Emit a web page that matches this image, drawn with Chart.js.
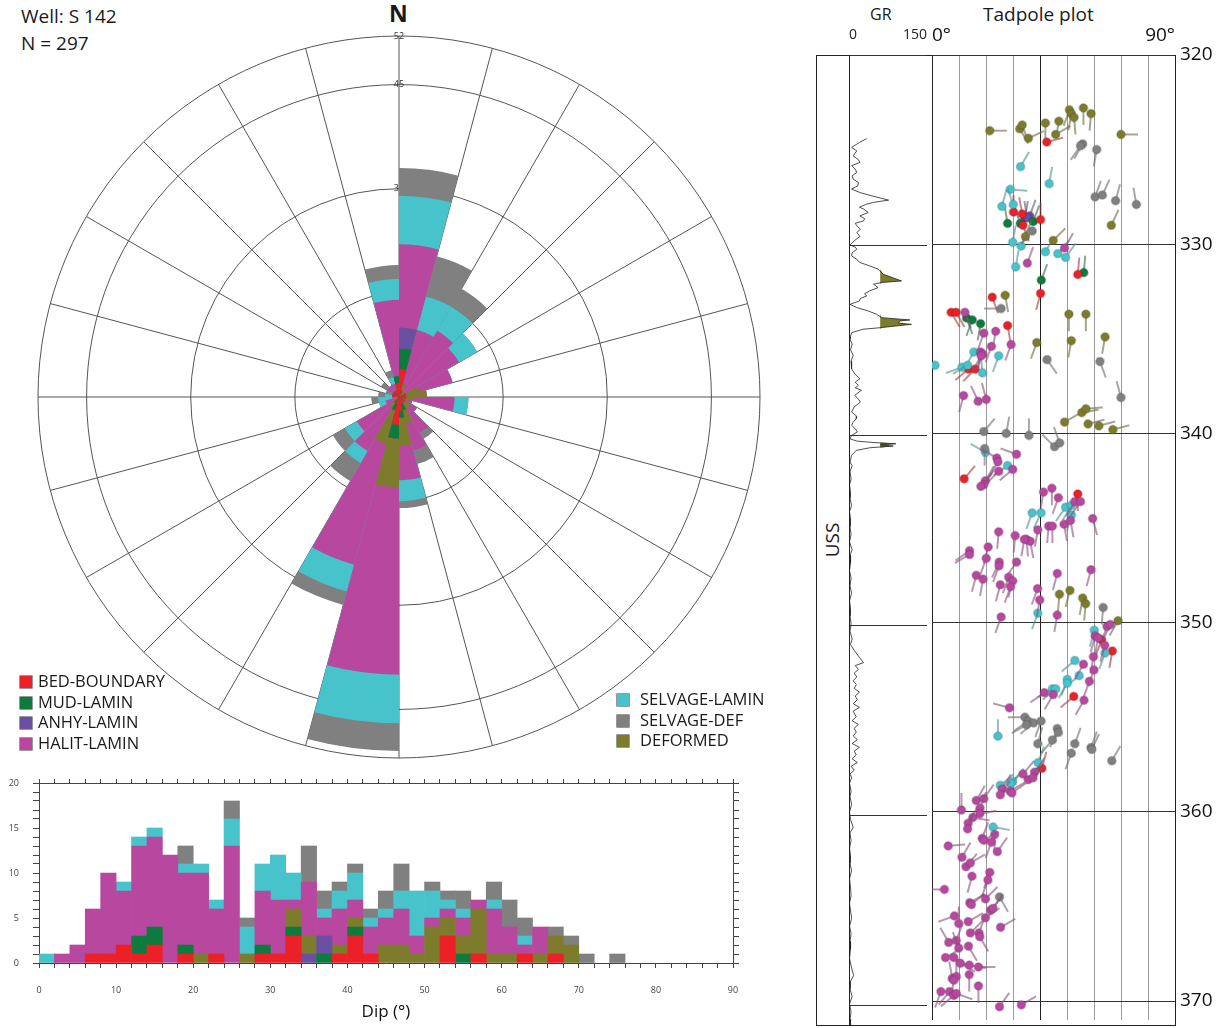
<!DOCTYPE html>
<html>
<head>
<meta charset="utf-8">
<title>Well S 142 - dip rose, dip histogram and tadpole plot</title>
<script src="https://cdn.jsdelivr.net/npm/chart.js@4.4.1/dist/chart.umd.min.js"></script>
<style>
  body { margin: 0; width: 1223px; height: 1028px; position: relative; overflow: hidden; background: #fff;
         font-family: 'Open Sans', sans-serif; color: #1a1a1a; }
  canvas, .txt, .box { position: absolute; }
  .txt { white-space: nowrap; }
  .leg { position: absolute; font-size: 16.5px; line-height: 20.5px; white-space: nowrap; }
  .leg i { display: inline-block; width: 12px; height: 12px; vertical-align: -1px;
           box-shadow: 0 0 0 0.6px #555; }
  #legL i { margin-right: 6px; }
  #legR i { margin-right: 11px; }
</style>
</head>
<body>
<div class="txt" style="left:21px;top:3px;font-size:19px;line-height:27px;">Well: S 142<br>N = 297</div>
<div class="txt" style="left:389px;top:-2px;font-size:23px;font-weight:bold;line-height:30px;">N</div>
<canvas id="rose" width="735" height="735" style="left:32px;top:30px"></canvas>
<div class="leg" id="legL" style="left:20px;top:671px"></div>
<div class="leg" id="legR" style="left:617px;top:689px"></div>
<canvas id="hist" width="760" height="258" style="left:0;top:770px"></canvas>

<div class="txt" style="left:870px;top:3px;font-size:16px">GR</div>
<div class="txt" style="left:983px;top:1px;font-size:19px">Tadpole plot</div>
<div class="box" style="left:816px;top:55px;width:360px;height:971px;border:1px solid #222;box-sizing:border-box"></div>
<div class="box" style="left:849px;top:55px;width:1px;height:970px;background:#222"></div>
<div class="txt" style="left:832px;top:540px;font-size:19px;transform:translate(-50%,-50%) rotate(-90deg)">USS</div>
<canvas id="gr" width="78" height="1025" style="left:849px;top:0"></canvas>
<canvas id="tad" width="296" height="1025" style="left:927px;top:0"></canvas>

<script>
// classes, bottom of the stack first
const classNames = ['BED-BOUNDARY', 'MUD-LAMIN', 'ANHY-LAMIN', 'DEFORMED', 'HALIT-LAMIN', 'SELVAGE-LAMIN', 'SELVAGE-DEF'];
const classColors = ['#ec2027', '#0e7b3e', '#6a50a2', '#7c7c2c', '#b8489f', '#47c3cc', '#808080'];

// rose: 24 sectors of 15 deg, clockwise from north
const roseBed     = [4,1,0,0,1,1,1,0,1,1,1,2,4,1,0,0,0,0,1,1,1,1,1,2];
const roseMud     = [3,0,0,0,0,0,0,0,0,0,1,1,2,1,1,0,0,0,0,0,0,0,0,1];
const roseAnhy    = [3,0,0,0,0,0,0,0,0,0,0,0,0,0,0,0,0,0,0,0,0,0,0,0];
const roseDef     = [0,1,1,1,2,3,1,1,1,1,2,4,7,5,1,1,0,0,0,0,0,0,0,0];
const roseHalit   = [12,8,10,9,5,0,6,1,1,4,4,5,27,18,7,6,2,1,0,0,1,1,1,11];
const roseSelv    = [7,5,4,3,0,0,2,0,0,0,0,3,7,4,2,2,1,2,1,0,0,0,1,3];
const roseSelvDef = [4,6,3,0,0,0,0,0,0,1,2,1,4,2,3,2,0,1,1,1,1,0,1,2];
const roseTicks = [15, 30, 45, 52];

// dip histogram: 2 deg bins 0-90
const dipBins = [];
for (let d = 1; d < 90; d += 2) dipBins.push(d);
const histBed     = [0,0,0,1,1,2,1,2,0,1, 0,1,0,0,1,1,3,0,0,1, 3,1,0,0,0,0,3,0,1,0, 0,1,0,1,0,0,0,0,0,0, 0,0,0,0,0];
const histMud     = [0,0,0,0,0,0,2,2,0,1, 0,0,0,0,1,0,1,0,1,0, 1,0,0,0,0,0,0,1,0,0, 0,0,0,0,0,0,0,0,0,0, 0,0,0,0,0];
const histAnhy    = [0,0,0,0,0,0,0,0,0,0, 0,0,0,0,0,0,0,1,2,0, 0,0,0,0,0,0,0,0,0,0, 0,0,0,0,0,0,0,0,0,0, 0,0,0,0,0];
const histDef     = [0,0,0,0,0,0,0,0,0,0, 1,0,0,1,0,0,2,2,0,1, 1,0,2,2,1,4,2,2,5,1, 1,0,1,2,2,0,0,0,0,0, 0,0,0,0,0];
const histHalit   = [0,1,2,5,9,6,10,10,12,8, 9,5,13,0,6,6,1,6,2,4, 2,3,3,4,2,1,1,2,1,5, 3,1,3,0,0,0,0,0,0,0, 0,0,0,0,0];
const histSelv    = [1,0,0,0,0,1,1,1,0,1, 1,1,3,3,3,5,3,0,1,2, 3,1,1,2,5,3,1,1,0,1, 0,1,0,0,0,0,0,0,0,0, 0,0,0,0,0];
const histSelvDef = [0,0,0,0,0,0,0,0,0,2, 0,0,2,1,0,0,0,4,2,1, 1,1,2,3,0,1,1,2,0,2, 3,2,0,1,1,1,0,1,0,0, 0,0,0,0,0];

// gamma ray log (API) against depth
const grDepth = [324.4,324.6,324.86,325.04,325.3,325.5,325.65,325.82,326.0,326.18,326.35,326.53,326.7,326.88,327.05,327.23,327.4,327.63,327.75,327.84,
  328.0,328.1,328.28,328.46,328.6,328.72,328.85,328.98,329.16,329.33,329.54,329.77,329.98,330.1,330.21,330.4,330.56,330.75,330.91,331.09,
  331.26,331.53,331.88,331.96,332.05,332.23,332.4,332.55,332.67,332.8,332.93,333.11,333.28,333.46,333.63,333.81,333.93,333.98,334.1,334.16,
  334.33,334.42,334.6,334.8,334.95,335.2,335.5,335.79,336.1,336.5,336.8,337.02,337.2,337.37,337.5,337.63,337.89,338.1,338.25,338.5,
  338.77,339.0,339.12,339.3,339.47,339.65,339.82,340.0,340.18,340.3,340.38,340.44,340.5,340.56,340.65,340.79,341.05,341.4,341.6,341.9,
  342.3,342.6,343.0,343.3,343.7,344.0,344.4,344.8,345.2,345.6,346.0,346.3,346.7,347.1,347.5,347.9,348.3,348.7,349.1,349.5,
  349.9,350.3,350.7,351.0,351.3,351.6,351.95,352.1,352.3,352.5,352.7,352.9,353.1,353.3,353.5,353.7,353.9,354.1,354.3,354.5,
  354.8,355.0,355.2,355.4,355.6,355.8,356.0,356.2,356.4,356.6,356.8,357.0,357.2,357.4,357.6,357.8,358.0,358.3,358.7,359.0,
  359.4,359.8,360.2,360.6,360.9,361.3,361.7,362.1,362.5,362.9,363.3,363.8,364.2,364.6,365.0,365.4,365.8,366.2,366.6,367.0,
  367.5,368.0,368.4,368.7,369.1,369.5,369.9,370.3,370.7,371.0];
const grValue = [34,20,5,15,8,18,21,5,12,15,6,8,18,17,5,21,43,76,47,34,
  20,28,37,21,30,28,12,15,22,15,21,10,2,12,15,6,5,15,21,40,
  56,66,101,63,47,56,40,30,34,22,20,2,15,37,53,63,117,98,95,120,
  63,27,5,3,2,6,3,8,4,5,12,21,12,18,12,24,11,18,22,10,
  5,15,14,8,5,12,16,5,2,15,50,90,60,85,40,14,5,2,6,2,
  4,1,3,2,5,1,3,2,4,1,6,2,3,1,4,2,5,1,3,2,
  4,2,6,3,10,18,28,12,18,10,15,8,14,10,20,12,16,8,20,8,
  14,6,18,10,14,8,16,6,20,10,14,6,16,4,10,2,5,1,4,2,
  5,1,3,8,2,4,1,3,2,5,1,3,4,1,3,5,1,4,2,3,
  1,5,9,3,2,6,1,4,2,3];
const shaleBeds = [[331.4, 332.0], [333.75, 334.4], [340.33, 340.7]];
const grCutoff = 60;

// tadpoles: depth (m), dip (deg), dip azimuth (deg), class index
const tadDepth = [
  324.0,323.9,323.7,324.4,323.6,323.5,324.2,322.9,323.1,323.3,322.8,323.1,324.2,329.0,329.8,329.6,332.7,333.7,333.7,335.2,335.1,334.9,
  324.6,328.3,328.4,329.0,328.7,331.6,332.6,332.8,333.6,333.6,334.3,
  324.7,324.8,325.0,327.5,327.4,327.7,327.9,329.3,333.4,
  325.9,326.8,327.1,328.0,327.9,329.9,330.1,330.4,330.5,330.7,331.2,
  328.9,328.9,328.8,331.5,331.9,333.9,334.0,334.2,
  328.6,328.5,328.6,
  330.2,331.0,333.6,334.7,334.6,
  335.4,335.3,335.7,335.7,335.8,335.9,335.9,336.1,336.2,336.4,336.5,336.4,336.6,336.6,336.8,338.0,338.3,338.2,338.1,
  339.4,338.9,338.7,339.5,339.6,339.8,339.9,340.0,340.1,340.7,340.5,340.8,341.0,341.1,341.3,341.5,341.7,341.9,342.0,
  342.4,342.5,342.7,342.8,343.1,342.9,343.4,343.2,343.6,343.6,343.9,343.8,344.2,344.2,344.3,344.5,344.9,344.9,344.8,344.6,
  345.1,345.6,345.7,345.6,345.4,345.2,346.2,346.4,346.0,346.6,346.8,347.0,346.8,347.5,347.7,347.6,347.8,348.1,348.0,347.4,
  347.2,348.2,348.8,348.5,348.3,348.7,349.0,349.2,349.5,349.6,349.7,349.9,350.2,350.1,350.4,350.7,350.8,350.9,351.2,351.5,
  351.6,351.8,352.0,352.2,352.5,352.8,
  353.0,353.2,353.1,353.5,353.5,353.7,353.8,353.9,354.1,354.5,355.0,355.2,355.3,355.2,355.4,356.0,355.6,355.8,356.2,356.4,
  356.4,356.9,356.6,356.7,357.3,357.4,357.7,357.9,358.3,358.2,358.0,358.4,358.5,358.6,358.8,359.1,358.9,359.0,359.4,359.3,
  359.8,359.9,360.1,360.3,360.6,360.9,360.8,361.2,361.4,361.5,361.6,361.8,362.1,362.4,362.9,362.7,363.4,363.2,363.6,364.1,
  364.5,364.8,364.9,364.6,365.2,365.1,365.5,365.9,365.8,365.6,366.1,366.4,366.4,366.6,366.9,366.8,367.2,367.1,367.7,367.7,
  368.0,368.1,368.2,368.6,368.8,368.7,368.9,369.2,369.5,369.5,369.7,369.6,370.3,370.2];
const tadDip = [
  21.4,32.5,33.4,35.7,42.0,47.0,45.8,50.9,51.6,52.6,56.1,58.9,70.0,66.4,44.9,34.6,27.1,50.7,57.0,38.8,51.6,64.1,
  42.5,30.2,33.4,33.7,40.2,54.0,40.2,22.3,7.1,8.9,28.0,
  55.8,55.0,61.0,60.4,63.1,68.0,75.7,37.1,25.6,
  32.8,43.4,29.0,25.9,30.1,29.9,33.0,42.0,46.6,49.5,31.0,
  28.0,32.7,37.5,56.2,40.5,12.8,14.9,18.0,
  34.4,36.2,35.3,
  49.1,35.3,12.2,19.2,23.6,
  22.0,29.3,15.5,18.0,18.8,18.2,24.7,42.6,62.2,1.1,11.1,13.2,13.5,16.0,18.7,11.7,17.1,20.1,70.0,
  49.1,55.5,57.0,57.8,61.8,67.0,19.2,27.5,35.9,45.4,47.3,19.5,19.8,31.3,24.0,24.4,28.0,29.9,24.7,
  11.9,19.8,19.2,18.1,41.3,44.4,46.8,54.0,52.9,55.0,49.5,51.6,37.1,40.4,51.6,59.5,43.2,44.6,48.9,51.3,
  39.2,35.0,36.4,34.2,30.8,24.7,13.9,13.9,20.8,20.1,24.9,24.8,31.3,16.4,18.9,28.4,29.9,29.1,25.3,46.4,
  58.9,39.1,39.9,47.2,51.1,55.8,56.9,63.4,39.2,46.4,25.6,68.9,64.8,66.0,60.1,60.4,61.5,62.8,64.0,66.8,
  64.1,59.8,52.9,56.1,60.0,54.5,
  50.1,50.1,58.3,44.6,45.8,41.6,44.9,52.5,56.3,28.7,34.4,35.6,37.6,40.4,35.0,24.4,46.4,46.8,44.6,39.2,
  52.9,51.6,58.9,59.2,66.6,39.3,40.7,38.0,35.6,37.4,33.7,29.9,29.2,25.3,26.0,25.3,28.9,29.6,16.4,19.2,
  17.8,10.9,17.7,15.1,13.4,13.2,22.6,23.2,18.6,19.2,22.0,6.0,24.2,11.1,12.6,14.2,14.8,21.4,20.7,4.6,
  25.0,14.0,14.6,19.8,21.7,22.6,8.3,9.9,13.4,19.8,25.4,14.2,17.4,17.7,6.2,9.0,9.9,13.5,5.0,8.1,
  10.5,13.8,17.2,13.8,7.5,9.0,8.1,17.2,3.3,6.5,8.1,9.0,25.0,33.1];
const tadAzi = [
  90,150,160,65,180,190,60,200,190,175,180,185,90,25,45,20,170,180,180,200,190,190,
  75,0,350,160,0,5,195,160,150,150,170,
  210,215,190,20,25,15,350,220,270,
  30,10,95,15,340,10,20,30,40,35,10,
  350,340,20,5,20,160,200,190,
  10,20,350,
  30,20,160,200,190,
  200,200,210,190,200,210,200,145,160,270,250,240,230,225,355,195,335,345,345,
  60,80,85,75,75,75,40,10,0,315,340,180,300,290,300,210,235,230,225,
  40,30,35,40,190,180,200,180,210,215,215,210,200,205,195,165,185,180,170,170,
  190,175,170,190,185,185,235,240,195,200,205,200,215,195,190,200,195,200,195,195,
  195,200,190,185,195,190,185,185,200,190,200,210,200,205,195,195,190,200,195,190,
  200,190,230,210,200,230,
  200,210,200,240,230,235,210,230,210,285,270,235,230,200,240,0,200,210,220,15,
  20,200,20,25,30,20,15,35,40,45,40,40,45,50,30,35,60,55,30,35,
  20,0,80,100,30,20,100,180,20,60,200,85,35,30,40,60,195,200,200,270,
  150,60,50,45,40,35,250,0,60,55,60,45,20,150,330,20,340,150,60,120,
  120,100,90,180,350,0,190,180,200,220,230,110,35,60];
const tadType = [
  3,3,3,3,3,3,3,3,3,3,3,3,3,3,3,3,3,3,3,3,3,3,
  0,0,0,0,0,0,0,0,0,0,0,
  6,6,6,6,6,6,6,6,6,
  5,5,5,5,5,5,5,5,5,5,5,
  1,1,1,1,1,1,1,1,
  2,2,2,
  4,4,4,4,4,
  4,4,5,4,4,4,5,6,6,5,5,5,0,0,5,4,4,4,6,
  3,3,3,3,3,3,6,6,6,6,6,6,5,4,4,4,5,4,4,
  0,4,4,4,4,4,4,0,4,4,5,5,5,5,5,4,4,4,4,4,
  4,4,4,4,4,4,4,4,4,4,4,4,4,4,4,4,4,4,4,4,
  4,4,4,3,3,3,3,6,5,4,4,3,4,4,5,4,4,0,4,0,
  5,4,5,4,4,5,
  5,5,4,5,5,4,4,0,4,4,6,6,6,6,6,5,6,6,6,6,
  6,6,6,6,6,5,0,4,4,4,4,5,5,5,4,4,4,4,4,4,
  4,4,4,4,4,4,5,4,4,4,4,4,4,4,4,4,4,4,4,4,
  6,4,4,4,4,4,4,4,4,4,4,4,4,4,4,4,4,4,4,4,
  4,4,4,4,4,4,4,4,4,4,4,4,4,4];

Chart.defaults.font.family = "'Open Sans', sans-serif";
Chart.defaults.color = '#222';
const quiet = { legend: { display: false }, tooltip: { enabled: false } };

function mix(hex, other, t) {
  const a = [1, 3, 5].map(i => parseInt(hex.substr(i, 2), 16));
  const b = [1, 3, 5].map(i => parseInt(other.substr(i, 2), 16));
  return 'rgb(' + a.map((v, i) => Math.round(v * (1 - t) + b[i] * t)).join(',') + ')';
}

// ---------- legend ----------
function addLegend(el, idx) {
  el.innerHTML = idx.map(i => '<div><i style="background:' + classColors[i] + '"></i>' + classNames[i] + '</div>').join('');
}
addLegend(document.getElementById('legL'), [0, 1, 2, 4]);
addLegend(document.getElementById('legR'), [5, 6, 3]);

// ---------- rose ----------
const roseLayers = [roseBed, roseMud, roseAnhy, roseDef, roseHalit, roseSelv, roseSelvDef];
const roseCum = [];
roseLayers.forEach((layer, k) => {
  roseCum.push(layer.map((v, i) => v + (k ? roseCum[k - 1][i] : 0)));
});
new Chart(document.getElementById('rose'), {
  type: 'polarArea',
  data: {
    labels: roseBed.map((v, i) => (i * 15) + '-' + (i * 15 + 15)),
    datasets: roseCum.map((d, k) => ({
      label: classNames[k], data: d, backgroundColor: classColors[k], borderWidth: 0
    }))
  },
  options: {
    responsive: false, animation: false, events: [], plugins: quiet,
    scales: {
      r: {
        min: 0, max: 52,
        afterBuildTicks: s => { s.ticks = [0].concat(roseTicks).map(v => ({ value: v })); },
        ticks: { font: { size: 9 }, color: '#333', showLabelBackdrop: false },
        grid: { color: '#555', lineWidth: 1 },
        angleLines: { display: true, color: '#555', lineWidth: 1 },
        pointLabels: { display: false }
      }
    }
  }
});

// ---------- histogram ----------
const histLayers = [histBed, histMud, histAnhy, histDef, histHalit, histSelv, histSelvDef];
const noPad = s => { s.paddingLeft = 0; s.paddingRight = 0; s.paddingTop = 0; s.paddingBottom = 0; };
new Chart(document.getElementById('hist'), {
  type: 'bar',
  data: {
    labels: dipBins,
    datasets: histLayers.map((d, k) => ({
      label: classNames[k], data: d.map(v => (v ? v : null)), backgroundColor: classColors[k], borderWidth: 0,
      barPercentage: 1, categoryPercentage: 1
    }))
  },
  options: {
    responsive: false, animation: false, events: [], plugins: quiet,
    scales: {
      x: {
        type: 'linear', stacked: true, min: 0, max: 90, offset: false,
        ticks: { stepSize: 2, autoSkip: false, maxRotation: 0, font: { size: 9 }, color: '#444', padding: 17,
                 callback: v => (v % 10 === 0 ? v : '') },
        grid: { drawOnChartArea: false, tickLength: 5, color: '#444', offset: false },
        border: { color: '#444' },
        title: { display: true, text: 'Dip (°)', font: { size: 17 }, color: '#111', padding: { top: 0, bottom: 6 } },
        afterFit: s => { s.height = 65; noPad(s); }
      },
      xt: {
        type: 'linear', position: 'top', min: 0, max: 90, offset: false,
        ticks: { stepSize: 2, autoSkip: false, maxRotation: 0, callback: () => '' },
        grid: { drawOnChartArea: false, tickLength: 4, color: '#444', offset: false },
        border: { color: '#444' },
        afterFit: s => { s.height = 13; noPad(s); }
      },
      y: {
        stacked: true, min: 0, max: 20,
        ticks: { stepSize: 1, autoSkip: false, font: { size: 9 }, color: '#444', padding: 14,
                 callback: v => (v % 5 === 0 ? v : '') },
        grid: { drawOnChartArea: false, tickLength: 6, color: '#444' },
        border: { color: '#444' },
        afterFit: s => { s.width = 39; noPad(s); }
      },
      yr: {
        type: 'linear', position: 'right', min: 0, max: 20,
        ticks: { stepSize: 1, autoSkip: false, callback: () => '' },
        grid: { drawOnChartArea: false, tickLength: 6, color: '#444' },
        border: { color: '#444' },
        afterFit: s => { s.width = 27; noPad(s); }
      }
    }
  }
});

// ---------- GR track ----------
const grPts = grDepth.map((d, i) => ({ x: grValue[i], y: d }));
const inBed = d => shaleBeds.some(b => d >= b[0] && d <= b[1]);
const grFillPts = grDepth.map((d, i) => ({ x: inBed(d) ? Math.max(grValue[i], grCutoff) : grCutoff, y: d }));
new Chart(document.getElementById('gr'), {
  type: 'line',
  data: {
    datasets: [
      { data: grPts, borderColor: '#222', borderWidth: 0.8, pointRadius: 0, fill: false, tension: 0 },
      { data: grFillPts, borderColor: 'rgba(0,0,0,0)', borderWidth: 0, pointRadius: 0,
        backgroundColor: classColors[3], fill: { value: grCutoff }, tension: 0 }
    ]
  },
  options: {
    indexAxis: 'y', responsive: false, animation: false, events: [], plugins: quiet,
    scales: {
      x: {
        type: 'linear', position: 'top', min: 0, max: 150,
        ticks: { stepSize: 150, align: 'inner', maxRotation: 0, font: { size: 14 }, color: '#222', padding: 4 },
        grid: { display: false }, border: { display: false },
        afterFit: s => { s.height = 55; noPad(s); }
      },
      y: {
        type: 'linear', reverse: true, min: 320, max: 371,
        ticks: { display: false, stepSize: 10, includeBounds: false },
        grid: { color: '#333', drawTicks: false }, border: { display: false },
        afterFit: s => { s.width = 0; noPad(s); }
      }
    }
  }
});

// ---------- tadpole plot ----------
function tadpoleImage(color) {
  const c = document.createElement('canvas');
  c.width = 38; c.height = 38;
  const g = c.getContext('2d');
  g.strokeStyle = mix(color, '#5a5a5a', 0.5);
  g.lineWidth = 1.2;
  g.beginPath(); g.moveTo(19, 19); g.lineTo(19, 2); g.stroke();
  g.beginPath(); g.arc(19, 19, 4.3, 0, Math.PI * 2);
  g.fillStyle = color; g.fill();
  g.lineWidth = 0.6; g.strokeStyle = 'rgba(0,0,0,0.35)'; g.stroke();
  return c;
}
const tadOrder = [4, 6, 3, 5, 0, 1, 2];
new Chart(document.getElementById('tad'), {
  type: 'scatter',
  data: {
    datasets: tadOrder.map(k => ({
      label: classNames[k],
      data: tadDepth.map((d, i) => ({ x: tadDip[i], y: d, a: tadAzi[i], t: tadType[i] })).filter(p => p.t === k),
      pointStyle: tadpoleImage(classColors[k]),
      pointRotation: c => (c.raw ? c.raw.a : 0)
    }))
  },
  options: {
    responsive: false, animation: false, events: [], plugins: quiet,
    scales: {
      x: {
        type: 'linear', min: 0, max: 90,
        ticks: { display: false, stepSize: 10 },
        grid: { drawTicks: false, color: c => ([0, 40, 90].includes(c.tick.value) ? '#222' : '#9a9a9a') },
        border: { display: false },
        afterFit: s => { s.height = 0; noPad(s); }
      },
      xt: {
        type: 'linear', position: 'top', min: 0, max: 90,
        ticks: { stepSize: 90, align: 'inner', maxRotation: 0, font: { size: 19 }, color: '#111', padding: 0,
                 callback: v => v + '°' },
        grid: { display: false }, border: { display: false },
        afterFit: s => { s.height = 55; noPad(s); }
      },
      y: {
        type: 'linear', position: 'right', reverse: true, min: 320, max: 371,
        ticks: { stepSize: 10, includeBounds: false, font: { size: 19 }, color: '#111', padding: 5 },
        grid: { color: '#333', drawTicks: false }, border: { display: false },
        afterFit: s => { s.width = 48; noPad(s); }
      }
    }
  }
});
</script>
</body>
</html>
